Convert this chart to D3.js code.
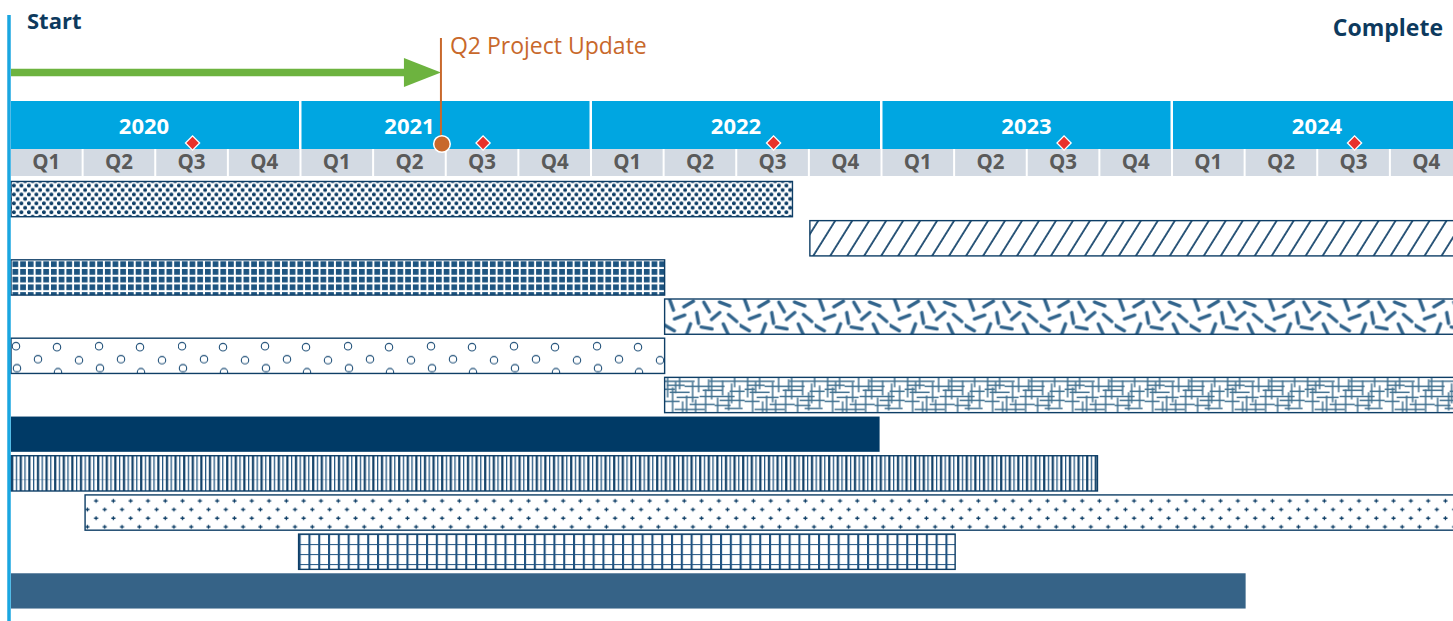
<!DOCTYPE html>
<html>
<head>
<meta charset="utf-8">
<script src="https://cdn.jsdelivr.net/npm/d3@7"></script>
<style>
  body { margin: 0; background: #fff; overflow: hidden; }
  text { font-family: "Open Sans", sans-serif; }
</style>
</head>
<body>
<div id="chart"></div>
<script>
// timeline data
const years = [2020, 2021, 2022, 2023, 2024];
const quarters = ["Q1", "Q2", "Q3", "Q4"];
const milestones = [2020.625, 2021.625, 2022.625, 2023.625, 2024.625];
const updateDate = 2021.48;
const updateLabel = "Q2 Project Update";

// task rows (top to bottom)
const taskIds = ["T1", "T2", "T3", "T4", "T5", "T6", "T7", "T8", "T9", "T10", "T11"];
const taskStart = [2020, 2022.75, 2020, 2022.25, 2020, 2022.25, 2020, 2020, 2020.255, 2020.99, 2020];
const taskEnd = [2022.69, 2025, 2022.25, 2025, 2022.25, 2025, 2022.99, 2023.74, 2025, 2023.25, 2024.25];
const taskFill = ["dots", "diagonal", "squares", "dashes", "circles", "crosshatch", "solidDark", "stripes", "plus", "grid", "solidMid"];

const W = 1453, H = 621;
const navy = "#0e3e66";

const svg = d3.select("#chart").append("svg")
    .attr("width", W)
    .attr("height", H);

const x = d3.scaleLinear()
    .domain([2020, 2025])
    .range([11, 1463.5]);

const y = d3.scaleBand()
    .domain(taskIds)
    .range([179.5, 610.5])
    .paddingInner(0.1)
    .paddingOuter(0.05);

const bh = y.bandwidth();
const defs = svg.append("defs");

const tasks = taskIds.map((id, i) => ({ id, start: taskStart[i], end: taskEnd[i], fill: taskFill[i] }));

// ---- patterns, anchored on each bar ----
function makePattern(t, w, h) {
    return defs.append("pattern")
        .attr("id", "p-" + t.id)
        .attr("patternUnits", "userSpaceOnUse")
        .attr("x", x(t.start))
        .attr("y", y(t.id))
        .attr("width", w)
        .attr("height", h);
}

// texture pieces for the irregular fills
const dashMarks = [
    [7, 6, 70], [24, 5, -30], [42, 8, 60], [60, 5, 20],
    [15, 18, -20], [33, 19, 80], [51, 17, -40], [68, 19, 40],
    [5, 29, 30], [24, 30, -70], [42, 29, 10], [61, 30, 65]
];
const hatchH = [[0, 30, 4], [20, 60, 9], [45, 80, 4], [5, 25, 15], [35, 70, 19], [0, 15, 24],
    [25, 50, 27], [55, 80, 23], [10, 40, 32], [60, 78, 31], [0, 10, 12], [65, 80, 14], [38, 58, 13],
    [12, 34, 20], [50, 66, 28], [2, 20, 8]];
const hatchV = [[3, 0, 20], [8, 10, 35], [15, 0, 12], [22, 18, 35], [28, 5, 25], [34, 0, 15],
    [41, 12, 35], [47, 0, 22], [53, 20, 35], [58, 3, 18], [64, 15, 33], [70, 0, 10], [75, 8, 30],
    [18, 24, 35], [31, 22, 35], [44, 2, 14], [67, 6, 26], [11, 4, 16]];
const ringPos = [[5, 8], [27, 21], [6, 30], [46, 9], [68, 22], [47, 34]];

tasks.forEach(t => {
    let p;
    switch (t.fill) {
    case "dots":
        p = makePattern(t, 7.5, 8.9);
        p.attr("x", x(t.start) + 1).attr("y", y(t.id) + 2);
        [[1.9, 2.1], [5.65, 6.55]].forEach(([cx, cy]) => {
            p.append("path")
                .attr("d", `M${cx - 1.9},${cy - 1.2}h3.8v2.4h-3.8z M${cx - 1.2},${cy - 1.9}h2.4v3.8h-2.4z`)
                .attr("fill", navy);
        });
        break;
    case "diagonal":
        p = makePattern(t, 14.4, 14.4).attr("patternTransform", "rotate(32)");
        p.append("line").attr("x1", 1).attr("x2", 1).attr("y1", -1).attr("y2", 16)
            .attr("stroke", navy).attr("stroke-width", 1.7);
        break;
    case "squares":
        p = makePattern(t, 7.7, 7.7);
        p.attr("x", x(t.start) + 1.5).attr("y", y(t.id) + 1.5);
        p.append("rect").attr("width", 5.7).attr("height", 5.7).attr("fill", "#1d5480");
        break;
    case "dashes":
        p = makePattern(t, 75, bh);
        dashMarks.forEach(([cx, cy, a]) => {
            p.append("line")
                .attr("x1", -5.5).attr("x2", 5.5).attr("y1", 0).attr("y2", 0)
                .attr("transform", `translate(${cx},${cy}) rotate(${a})`)
                .attr("stroke", "#31648c").attr("stroke-width", 3.4).attr("stroke-linecap", "round");
        });
        break;
    case "circles":
        p = makePattern(t, 83, bh);
        ringPos.forEach(([cx, cy]) => {
            p.append("circle").attr("cx", cx).attr("cy", cy).attr("r", 3.7)
                .attr("fill", "none").attr("stroke", "#1f4f78").attr("stroke-width", 1.1);
        });
        break;
    case "crosshatch":
        p = makePattern(t, 80, bh);
        hatchH.forEach(([a, b, yy]) => p.append("line").attr("x1", a).attr("x2", b).attr("y1", yy).attr("y2", yy)
            .attr("stroke", "#40708f").attr("stroke-width", 1.5));
        hatchV.forEach(([xx, a, b]) => p.append("line").attr("x1", xx).attr("x2", xx).attr("y1", a).attr("y2", b)
            .attr("stroke", "#40708f").attr("stroke-width", 1.5));
        break;
    case "stripes":
        p = makePattern(t, 8.6, bh);
        p.append("line").attr("x1", 0).attr("x2", 8.6).attr("y1", 24).attr("y2", 24)
            .attr("stroke", "#b9c8d6").attr("stroke-width", 1);
        p.append("line").attr("x1", 1.2).attr("x2", 1.2).attr("y1", 0).attr("y2", bh)
            .attr("stroke", navy).attr("stroke-width", 2.2);
        p.append("line").attr("x1", 5.4).attr("x2", 5.4).attr("y1", 0).attr("y2", bh)
            .attr("stroke", "#1f5480").attr("stroke-width", 1.3);
        break;
    case "plus":
        p = makePattern(t, 17.3, 17.3);
        [[11, 6], [2.35, 14.65]].forEach(([cx, cy]) => {
            p.append("path")
                .attr("d", `M${cx - 2},${cy}h4M${cx},${cy - 2}v4`)
                .attr("stroke", navy).attr("stroke-width", 1.3);
        });
        break;
    case "grid":
        p = makePattern(t, 9.8, 10);
        p.append("path").attr("d", "M1,0v10M0,0h9.8")
            .attr("stroke", "#1f5280").attr("stroke-width", 2.2);
        break;
    }
});

const solidColor = { solidDark: "#003a66", solidMid: "#366387" };

// ---- header: years and quarters ----
// year labels sit left of centre in the first two years
const yearLabelShift = [-11, -36, 0, 0, 0];

svg.append("g").selectAll("rect")
    .data(years)
    .join("rect")
    .attr("x", d => x(d))
    .attr("y", 101)
    .attr("width", d => x(d + 1) - x(d) - 2.5)
    .attr("height", 48)
    .attr("fill", "#00a6e1");

svg.append("g").selectAll("text")
    .data(years)
    .join("text")
    .attr("x", (d, i) => (x(d) + x(d + 1) - 2.5) / 2 + yearLabelShift[i])
    .attr("y", 134)
    .attr("text-anchor", "middle")
    .attr("fill", "#fff")
    .style("font-size", "22px")
    .style("font-weight", 700)
    .text(d => d);

const qCells = years.flatMap(yr => quarters.map((q, i) => ({ q, s: yr + i / 4, e: yr + (i + 1) / 4 })));

svg.append("g").selectAll("rect")
    .data(qCells)
    .join("rect")
    .attr("x", d => x(d.s))
    .attr("y", 149)
    .attr("width", d => x(d.e) - x(d.s) - 2)
    .attr("height", 27)
    .attr("fill", "#d3dae3");

svg.append("g").selectAll("text")
    .data(qCells)
    .join("text")
    .attr("x", d => (x(d.s) + x(d.e) - 2) / 2)
    .attr("y", 169)
    .attr("text-anchor", "middle")
    .attr("fill", "#5a5a5a")
    .style("font-size", "20.5px")
    .style("font-weight", 700)
    .text(d => d.q);

// milestones
svg.append("g").selectAll("path")
    .data(milestones)
    .join("path")
    .attr("d", d3.symbol(d3.symbolSquare, 100))
    .attr("transform", d => `translate(${x(d)},143) rotate(45)`)
    .attr("fill", "#e8322b")
    .attr("stroke", "#fff")
    .attr("stroke-width", 1.3);

// ---- task bars ----
svg.append("g").selectAll("rect")
    .data(tasks)
    .join("rect")
    .attr("x", d => x(d.start))
    .attr("y", d => y(d.id))
    .attr("width", d => x(d.end) - x(d.start))
    .attr("height", bh)
    .attr("fill", d => solidColor[d.fill] || `url(#p-${d.id})`)
    .attr("stroke", d => solidColor[d.fill] ? "none" : navy)
    .attr("stroke-width", 1.4);

// ---- progress arrow and update marker ----
const ux = x(updateDate);

svg.append("line")
    .attr("x1", x(2020))
    .attr("x2", ux - 30)
    .attr("y1", 72.5)
    .attr("y2", 72.5)
    .attr("stroke", "#6db33f")
    .attr("stroke-width", 7.5);

svg.append("path")
    .attr("d", `M${ux - 37},58 L${ux},72.5 L${ux - 37},87 Z`)
    .attr("fill", "#6db33f");

svg.append("line")
    .attr("x1", ux)
    .attr("x2", ux)
    .attr("y1", 38)
    .attr("y2", 143)
    .attr("stroke", "#c8682b")
    .attr("stroke-width", 2);

svg.append("circle")
    .attr("cx", ux + 1)
    .attr("cy", 144)
    .attr("r", 8.3)
    .attr("fill", "#c8682b")
    .attr("stroke", "#fff")
    .attr("stroke-width", 1.5);

svg.append("text")
    .attr("x", ux + 9)
    .attr("y", 54)
    .attr("fill", "#c8682b")
    .style("font-size", "23px")
    .text(updateLabel);

// ---- start line and labels ----
svg.append("line")
    .attr("x1", 9)
    .attr("x2", 9)
    .attr("y1", 15)
    .attr("y2", H)
    .attr("stroke", "#1aa6e0")
    .attr("stroke-width", 3.5);

svg.append("text")
    .attr("x", 27)
    .attr("y", 29)
    .attr("fill", "#0d3a5e")
    .style("font-size", "22px")
    .style("font-weight", 700)
    .text("Start");

svg.append("text")
    .attr("x", 1443)
    .attr("y", 36)
    .attr("text-anchor", "end")
    .attr("fill", "#0d3a5e")
    .style("font-size", "23px")
    .style("font-weight", 700)
    .text("Complete");
</script>
</body>
</html>
